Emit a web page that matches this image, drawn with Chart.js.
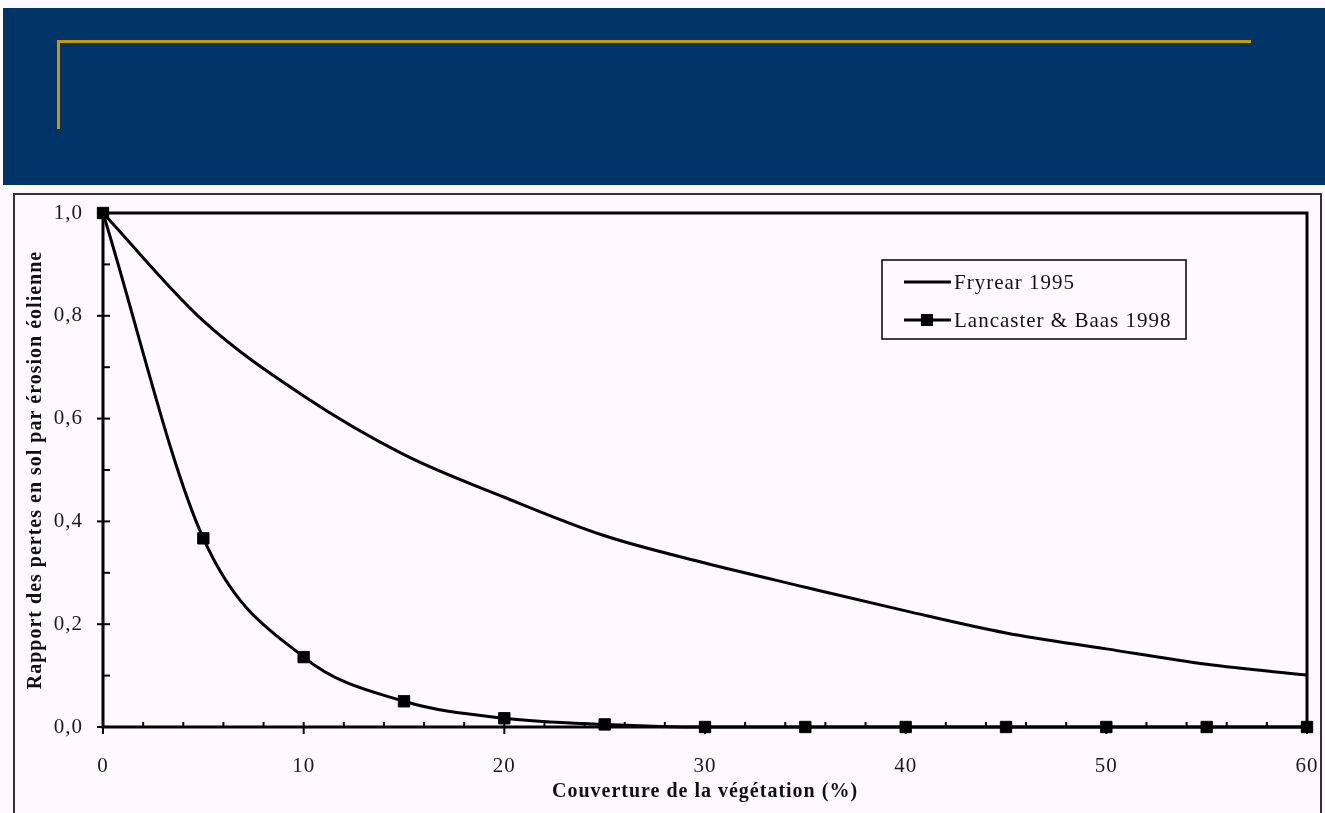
<!DOCTYPE html>
<html>
<head>
<meta charset="utf-8">
<script src="https://cdn.jsdelivr.net/npm/chart.js@4/dist/chart.umd.min.js"></script>
<style>
  body { margin: 0; background: #fdf9fd; width: 1325px; height: 813px; overflow: hidden; position: relative; }
  .band { position: absolute; left: 3px; top: 8px; width: 1322px; height: 177px; background: #003366; }
  .gold-h { position: absolute; left: 57px; top: 40px; width: 1194px; height: 3px; background: #c69a00; }
  .gold-v { position: absolute; left: 57px; top: 40px; width: 3px; height: 89px; background: #c69a00; }
  .frame { position: absolute; left: 13px; top: 193px; width: 1305px; height: 640px; border: 2px solid #333; }
  .wrap { position: absolute; left: 0; top: 185px; width: 1325px; height: 628px; }
</style>
</head>
<body>
<div class="band"></div>
<div class="gold-h"></div>
<div class="gold-v"></div>
<div class="frame"></div>
<div class="wrap"><canvas id="erosionChart"></canvas></div>
<script>
const coverX = [0, 5, 10, 15, 20, 25, 30, 35, 40, 45, 50, 55, 60];
const fryrear = [1.0, 0.79, 0.644, 0.53, 0.447, 0.372, 0.319, 0.272, 0.226, 0.183, 0.152, 0.122, 0.101];
const lancaster = [1.0, 0.367, 0.136, 0.05, 0.017, 0.005, 0, 0, 0, 0, 0, 0, 0];
const seriesNames = ['Fryrear 1995', 'Lancaster & Baas 1998'];
const yTicks = [0, 0.2, 0.4, 0.6, 0.8, 1.0];
const xTicks = [0, 10, 20, 30, 40, 50, 60];

const serif = "'Liberation Serif', 'DejaVu Serif', serif";

// the scanned excel text is spaced out a bit
const spacing = {
    id: 'spacing',
    beforeUpdate(chart) { chart.ctx.letterSpacing = '1px'; },
    beforeDraw(chart) { chart.ctx.letterSpacing = '1px'; }
};

// frame + tick marks like the old excel plot
const framePlugin = {
    id: 'framePlugin',
    afterDatasetsDraw(chart) {
        const {ctx, chartArea: a, scales: {x, y}} = chart;
        ctx.save();
        ctx.strokeStyle = '#000';
        ctx.lineWidth = 3;
        ctx.strokeRect(a.left, a.top, a.right - a.left, a.bottom - a.top);
        ctx.lineWidth = 2;
        for (let v = 0; v <= 1.0001; v += 0.1) {
            const py = y.getPixelForValue(v);
            const major = Math.round(v * 10) % 2 === 0;
            ctx.beginPath();
            ctx.moveTo(a.left - (major ? 6 : 0), py);
            ctx.lineTo(a.left + 7, py);
            ctx.stroke();
        }
        for (let v = 0; v <= 60; v += 2) {
            const px = x.getPixelForValue(v);
            const major = v % 10 === 0;
            ctx.beginPath();
            ctx.moveTo(px, a.bottom + (major ? 7 : 0));
            ctx.lineTo(px, a.bottom - 5);
            ctx.stroke();
        }
        ctx.restore();
    }
};

// legend box inside the plot
const boxLegend = {
    id: 'boxLegend',
    afterDraw(chart) {
        const {ctx, chartArea: a} = chart;
        const left = a.right - 425, top = a.top + 47, w = 304, h = 79;
        ctx.save();
        ctx.fillStyle = '#fdf9fd';
        ctx.fillRect(left, top, w, h);
        ctx.strokeStyle = '#000';
        ctx.lineWidth = 1.5;
        ctx.strokeRect(left, top, w, h);
        ctx.font = '21px ' + serif;
        ctx.textBaseline = 'middle';
        chart.data.datasets.forEach((ds, i) => {
            const ly = top + 22 + i * 38;
            ctx.lineWidth = 3;
            ctx.beginPath();
            ctx.moveTo(left + 22, ly);
            ctx.lineTo(left + 69, ly);
            ctx.stroke();
            if (ds.pointRadius > 0) {
                ctx.fillStyle = '#000';
                ctx.fillRect(left + 39, ly - 6, 12, 12);
            }
            ctx.fillStyle = '#111';
            ctx.fillText(ds.label, left + 72, ly + 1);
        });
        ctx.restore();
    }
};

const ctx = document.getElementById('erosionChart').getContext('2d');

const erosionChart = new Chart(ctx, {
    type: 'line',
    data: {
        datasets: [{
            label: seriesNames[0],
            data: coverX.map((c, i) => ({x: c, y: fryrear[i]})),
            borderColor: '#000',
            borderWidth: 3,
            pointRadius: 0,
            cubicInterpolationMode: 'monotone',
            clip: false
        }, {
            label: seriesNames[1],
            data: coverX.map((c, i) => ({x: c, y: lancaster[i]})),
            borderColor: '#000',
            backgroundColor: '#000',
            borderWidth: 3,
            pointStyle: 'rect',
            pointRadius: 8,
            pointBorderWidth: 1,
            cubicInterpolationMode: 'monotone',
            clip: false
        }]
    },
    options: {
        responsive: true,
        maintainAspectRatio: false,
        animation: false,
        layout: { padding: { left: 20, right: 18, top: 28, bottom: 0 } },
        scales: {
            x: {
                type: 'linear',
                min: 0,
                max: 60,
                afterFit: s => { s.height = 86; s.paddingLeft = 0; s.paddingRight = 0; },
                afterBuildTicks: s => { s.ticks = xTicks.map(v => ({value: v})); },
                grid: { display: false, drawTicks: false },
                border: { display: false },
                ticks: { color: '#1a1a1a', font: { family: serif, size: 21 }, padding: 27, maxRotation: 0 },
                title: {
                    display: true,
                    text: 'Couverture de la végétation (%)',
                    color: '#111',
                    font: { family: serif, size: 20, weight: 'bold' },
                    padding: { top: 0, bottom: 9 }
                }
            },
            y: {
                min: 0,
                max: 1,
                afterFit: s => { s.width = 83; s.paddingTop = 0; s.paddingBottom = 0; },
                afterBuildTicks: s => { s.ticks = yTicks.map(v => ({value: v})); },
                grid: { display: false, drawTicks: false },
                border: { display: false },
                ticks: {
                    color: '#1a1a1a',
                    font: { family: serif, size: 21 },
                    padding: 20,
                    callback: v => v.toFixed(1).replace('.', ',')
                },
                title: {
                    display: true,
                    text: 'Rapport des pertes en sol par érosion éolienne',
                    color: '#111',
                    font: { family: serif, size: 20, weight: 'bold' },
                    padding: { top: 4, bottom: 4 }
                }
            }
        },
        plugins: {
            legend: { display: false },
            tooltip: { enabled: false }
        }
    },
    plugins: [spacing, framePlugin, boxLegend]
});
</script>
</body>
</html>
